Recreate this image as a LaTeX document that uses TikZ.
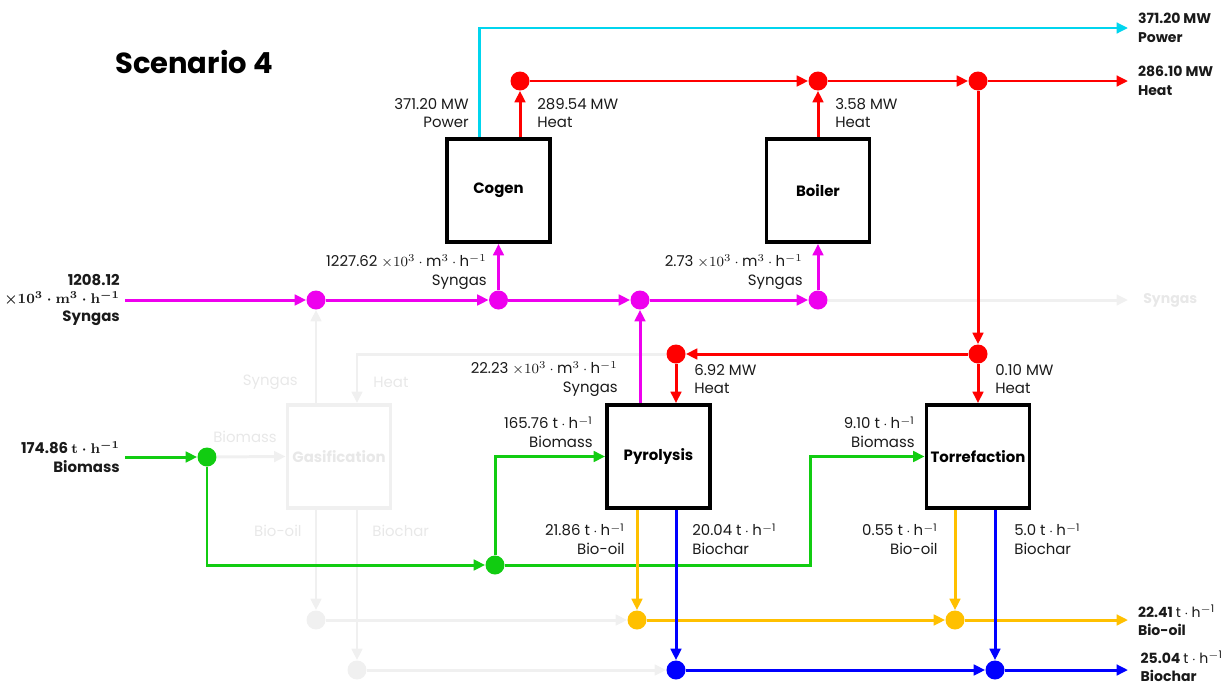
\documentclass[tikz,border=0pt]{standalone}
\usepackage{amsmath,amssymb}
\usepackage{xcolor}
\usepackage{fontspec}
\setmainfont{Poppins}
\usepackage{tikz}
\usetikzlibrary{arrows.meta,calc,positioning}
\definecolor{pwr}{HTML}{00D5EE}
\definecolor{heat}{HTML}{FF0000}
\definecolor{syn}{HTML}{EE00EE}
\definecolor{bmass}{HTML}{11CC11}
\definecolor{oil}{HTML}{FFC000}
\definecolor{char}{HTML}{0000FF}
\definecolor{fade}{HTML}{F0F0F0}
\definecolor{fadetext}{HTML}{E8E8E8}
\definecolor{ink}{HTML}{1A1A1A}

\begin{document}
\begin{tikzpicture}[x=0.02cm,y=-0.02cm,>={Triangle[length=6.5pt,width=6pt]},
    proc/.style={draw,line width=2.2pt,minimum size=2.06cm,inner sep=0,font=\fontsize{8.5}{10}\selectfont\bfseries},
    jn/.style={circle,fill,inner sep=0,minimum size=0.38cm},
    flow/.style={->,line width=1.7pt},
    lbl/.style={font=\fontsize{8.5}{10.5}\selectfont,inner sep=0,text=ink},
    outlbl/.style={font=\fontsize{8}{10.5}\selectfont\bfseries,anchor=west,align=left,inner xsep=5.5pt,inner ysep=0,text=ink},
    inlbl/.style={font=\fontsize{8.5}{10.5}\selectfont\bfseries\boldmath,anchor=east,align=right,inner xsep=2.8pt,inner ysep=0,text=ink},
    ghost/.style={font=\fontsize{8.5}{10.5}\selectfont,inner sep=0,text=fadetext}]
  \useasboundingbox (0,0) rectangle (1223,687);
  \node[font=\fontsize{16.5}{19}\selectfont\bfseries] (title) at (194,62) {Scenario 4};

  % units
  \node[proc] (cogen) at (498.5,190.5) {Cogen};
  \node[proc] (boiler) at (818,190.5) {Boiler};
  \node[proc] (pyro) at (658.5,456.5) {Pyrolysis};
  \node[proc] (torr) at (978,456.5) {Torrefaction};
  \node[proc,draw=fade,text=fadetext] (gasif) at (339,456.5) {Gasification};

  % junctions
  \node[jn,heat] (h1) at (520,81) {};
  \node[jn,heat] (h2) at (818,81) {};
  \node[jn,heat] (h3) at (978,81) {};
  \node[jn,heat] (h4) at (978,354) {};
  \node[jn,heat] (h5) at (676,354) {};
  \node[jn,syn] (s1) at (316,300) {};
  \node[jn,syn] (s2) at (498.5,300) {};
  \node[jn,syn] (s3) at (640,300) {};
  \node[jn,syn] (s4) at (818,300) {};
  \node[jn,bmass] (b1) at (207,457) {};
  \node[jn,bmass] (b2) at (495,565) {};
  \node[jn,oil] (o1) at (637,620) {};
  \node[jn,oil] (o2) at (955,620) {};
  \node[jn,char] (c1) at (676,670) {};
  \node[jn,char] (c2) at (995,670) {};
  \node[jn,fade] (go) at (316,620) {};
  \node[jn,fade] (gc) at (357,670) {};
  \coordinate (pw) at (479,28);
  \coordinate (gh) at (357,354);
  \coordinate (bt) at (810,565);

  % inputs and outputs
  \node[inlbl] (sgin) at (125,300) {1208.12\\$\times\mathbf{10^3\cdot m^3\cdot h^{-1}}$\\Syngas};
  \node[inlbl] (bmin) at (125,457) {174.86 $\mathbf{t\cdot h^{-1}}$\\Biomass};
  \node[outlbl] (pwout) at (1128,28) {371.20 $\mathbf{MW}$\\Power};
  \node[outlbl] (htout) at (1128,81) {286.10 $\mathbf{MW}$\\Heat};
  \node[outlbl] (oilout) at (1128,620) {22.41 $\mathrm{t\cdot h^{-1}}$\\Bio-oil};
  \node[outlbl,inner xsep=7pt] (charout) at (1128,666) {25.04 $\mathrm{t\cdot h^{-1}}$\\Biochar};
  \node[outlbl,inner xsep=8.5pt,text=fadetext] (sgout) at (1128,300) {Syngas};

  % faded gasification route
  \draw[flow,fade] (gasif.north -| s1) -- (s1);
  \draw[flow,fade] (h5) -- (gh) -- (gasif.north -| gh);
  \draw[flow,fade] (b1) -- (gasif.west);
  \draw[flow,fade] (gasif.south -| go) -- (go);
  \draw[flow,fade] (gasif.south -| gc) -- (gc);
  \draw[flow,fade] (go) -- (o1);
  \draw[flow,fade] (gc) -- (c1);
  \draw[flow,fade] (s4) -- (sgout);
  \node[ghost,anchor=east] (gsg) at (298,382) {Syngas};
  \node[ghost,anchor=west] (gheat) at (373,382) {Heat};
  \node[ghost] (gbm) at (245,437) {Biomass};
  \node[ghost,anchor=east] (goil) at (302,531) {Bio-oil};
  \node[ghost,anchor=west] (gchar) at (372,531) {Biochar};

  % power and heat
  \draw[flow,pwr] (cogen.north -| pw) -- (pw) -- (pwout);
  \draw[flow,heat] (cogen.north -| h1) -- (h1);
  \draw[flow,heat] (h1) -- (h2);
  \draw[flow,heat] (boiler.north) -- (h2);
  \draw[flow,heat] (h2) -- (h3);
  \draw[flow,heat] (h3) -- (htout);
  \draw[flow,heat] (h3) -- (h4);
  \draw[flow,heat] (h4) -- (h5);
  \draw[flow,heat] (h5) -- (h5 |- pyro.north);
  \draw[flow,heat] (h4) -- (torr.north);

  % syngas
  \draw[flow,syn] (sgin) -- (s1);
  \draw[flow,syn] (s1) -- (s2);
  \draw[flow,syn] (s2) -- (s3);
  \draw[flow,syn] (s3) -- (s4);
  \draw[flow,syn] (s2) -- (cogen.south);
  \draw[flow,syn] (s4) -- (boiler.south);
  \draw[flow,syn] (pyro.north -| s3) -- (s3);

  % biomass
  \draw[flow,bmass] (bmin) -- (b1);
  \draw[flow,bmass] (b1) |- (b2);
  \draw[flow,bmass] (b2) |- (pyro.west);
  \draw[flow,bmass] (b2) -- (bt) |- (torr.west);

  % bio-oil and biochar
  \draw[flow,oil] (pyro.south -| o1) -- (o1);
  \draw[flow,oil] (torr.south -| o2) -- (o2);
  \draw[flow,oil] (o1) -- (o2);
  \draw[flow,oil] (o2) -- (oilout);
  \draw[flow,char] (pyro.south -| c1) -- (c1);
  \draw[flow,char] (torr.south -| c2) -- (c2);
  \draw[flow,char] (c1) -- (c2);
  \draw[flow,char] (c2) -- (c2 -| charout.west);

  % stream labels
  \node[lbl,anchor=east,align=right] (cpw) at (469,113) {371.20 $\mathrm{MW}$\\Power};
  \node[lbl,anchor=west,align=left] (cht) at (537,113) {289.54 $\mathrm{MW}$\\Heat};
  \node[lbl,anchor=west,align=left] (bht) at (835,113) {3.58 $\mathrm{MW}$\\Heat};
  \node[lbl,anchor=east,align=right] (csg) at (487,272) {1227.62 $\times10^3\cdot\mathrm{m}^3\cdot\mathrm{h}^{-1}$\\Syngas};
  \node[lbl,anchor=east,align=right] (bsg) at (803,272) {2.73 $\times10^3\cdot\mathrm{m}^3\cdot\mathrm{h}^{-1}$\\Syngas};
  \node[lbl,anchor=east,align=right] (psg) at (618,379) {22.23 $\times10^3\cdot\mathrm{m}^3\cdot\mathrm{h}^{-1}$\\Syngas};
  \node[lbl,anchor=west,align=left] (pht) at (694,379) {6.92 $\mathrm{MW}$\\Heat};
  \node[lbl,anchor=west,align=left] (tht) at (995,379) {0.10 $\mathrm{MW}$\\Heat};
  \node[lbl,anchor=east,align=right] (pbm) at (593,432) {165.76 $\mathrm{t\cdot h^{-1}}$\\Biomass};
  \node[lbl,anchor=east,align=right] (tbm) at (915,432) {9.10 $\mathrm{t\cdot h^{-1}}$\\Biomass};
  \node[lbl,anchor=east,align=right] (poil) at (625,539) {21.86 $\mathrm{t\cdot h^{-1}}$\\Bio-oil};
  \node[lbl,anchor=west,align=left] (pchar) at (692,539) {20.04 $\mathrm{t\cdot h^{-1}}$\\Biochar};
  \node[lbl,anchor=east,align=right] (toil) at (938,539) {0.55 $\mathrm{t\cdot h^{-1}}$\\Bio-oil};
  \node[lbl,anchor=west,align=left] (tchar) at (1014,539) {5.0 $\mathrm{t\cdot h^{-1}}$\\Biochar};
\end{tikzpicture}
\end{document}
